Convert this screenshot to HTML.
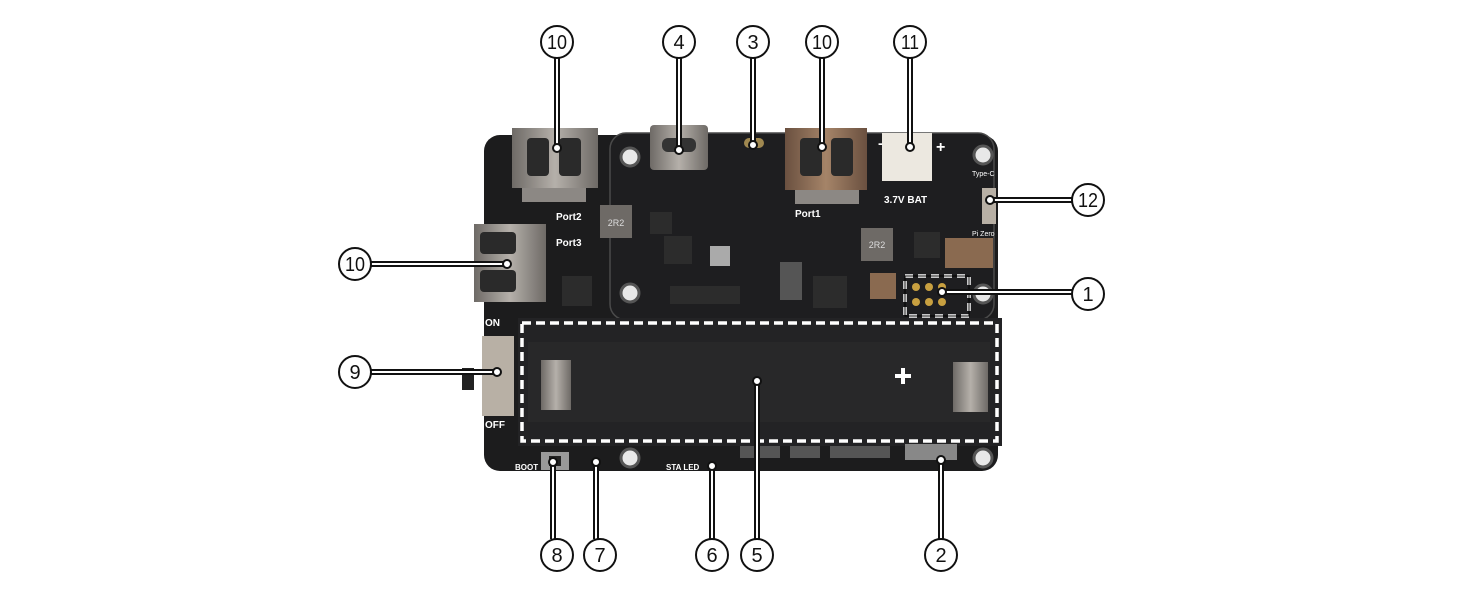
<!DOCTYPE html>
<html><head><meta charset="utf-8"><style>
html,body{margin:0;padding:0;background:#fff;}
svg{display:block;}
text{font-family:"Liberation Sans",sans-serif;}
</style></head><body>
<svg width="1464" height="600" viewBox="0 0 1464 600" xmlns="http://www.w3.org/2000/svg">
<defs>
<linearGradient id="met" x1="0" x2="1"><stop offset="0" stop-color="#6e6a66"/><stop offset=".5" stop-color="#b5b0aa"/><stop offset="1" stop-color="#6e6a66"/></linearGradient>
<linearGradient id="cop" x1="0" x2="1"><stop offset="0" stop-color="#6a5040"/><stop offset=".5" stop-color="#a58468"/><stop offset="1" stop-color="#6a5040"/></linearGradient>
</defs>
<!-- board -->
<rect x="484" y="135" width="514" height="336" rx="16" fill="#1c1c1d"/>
<rect x="610" y="133" width="384" height="187" rx="16" fill="#1e1e20" stroke="#4a4a4a" stroke-width="1.5"/>
<!-- holes -->
<g fill="#e8e8e8" stroke="#555" stroke-width="3">
<circle cx="630" cy="157" r="9"/><circle cx="630" cy="293" r="9"/><circle cx="983" cy="155" r="9"/><circle cx="983" cy="294" r="9"/><circle cx="630" cy="458" r="9"/><circle cx="983" cy="458" r="9"/>
</g>
<!-- USB port2 -->
<rect x="512" y="128" width="86" height="60" fill="url(#met)"/>
<rect x="527" y="138" width="22" height="38" rx="4" fill="#2a2a2a"/><rect x="559" y="138" width="22" height="38" rx="4" fill="#2a2a2a"/>
<rect x="522" y="188" width="64" height="14" fill="#8c8884"/>
<!-- type C -->
<rect x="650" y="125" width="58" height="45" rx="4" fill="url(#met)"/>
<rect x="662" y="138" width="34" height="14" rx="6" fill="#333"/>
<rect x="744" y="138" width="20" height="10" rx="5" fill="#a08850"/>
<!-- port1 -->
<rect x="785" y="128" width="82" height="62" fill="url(#cop)"/>
<rect x="800" y="138" width="22" height="38" rx="4" fill="#2a2a2a"/><rect x="831" y="138" width="22" height="38" rx="4" fill="#2a2a2a"/>
<rect x="795" y="190" width="64" height="14" fill="#8c8884"/>
<!-- bat connector -->
<rect x="882" y="133" width="50" height="48" fill="#ece8e0"/>
<text x="878" y="148" fill="#fff" font-size="14" font-weight="bold">-</text>
<text x="936" y="152" fill="#fff" font-size="16" font-weight="bold">+</text>
<text x="884" y="203" fill="#fff" font-size="10" font-weight="bold">3.7V BAT</text>
<text x="795" y="217" fill="#fff" font-size="10" font-weight="bold">Port1</text>
<text x="556" y="220" fill="#fff" font-size="10" font-weight="bold">Port2</text>
<text x="556" y="246" fill="#fff" font-size="10" font-weight="bold">Port3</text>
<text x="972" y="176" fill="#fff" font-size="7">Type-C</text>
<text x="972" y="236" fill="#fff" font-size="7">Pi Zero</text>
<!-- switch right -->
<rect x="982" y="188" width="14" height="36" fill="#b8b0a5"/>
<!-- inductors / chips -->
<rect x="600" y="205" width="32" height="33" fill="#6e6a66"/><text x="616" y="226" fill="#ddd" font-size="9" text-anchor="middle">2R2</text>
<rect x="861" y="228" width="32" height="33" fill="#6e6a66"/><text x="877" y="248" fill="#ddd" font-size="9" text-anchor="middle">2R2</text>
<rect x="664" y="236" width="28" height="28" fill="#2c2c2c"/>
<rect x="650" y="212" width="22" height="22" fill="#2c2c2c"/>
<rect x="710" y="246" width="20" height="20" fill="#aaa"/>
<rect x="780" y="262" width="22" height="38" fill="#555"/>
<rect x="813" y="276" width="34" height="32" fill="#2c2c2c"/>
<rect x="914" y="232" width="26" height="26" fill="#2c2c2c"/>
<rect x="562" y="276" width="30" height="30" fill="#2c2c2c"/>
<rect x="670" y="286" width="70" height="18" fill="#2c2c2c"/>
<rect x="870" y="273" width="26" height="26" fill="#8a6a50"/>
<rect x="945" y="238" width="48" height="30" fill="#8a6a50"/>
<!-- side USB -->
<rect x="474" y="224" width="72" height="78" fill="url(#met)"/>
<rect x="480" y="232" width="36" height="22" rx="4" fill="#2a2a2a"/><rect x="480" y="270" width="36" height="22" rx="4" fill="#2a2a2a"/>
<!-- pogo -->
<g fill="#c8a040"><circle cx="916" cy="287" r="4"/><circle cx="929" cy="287" r="4"/><circle cx="942" cy="287" r="4"/><circle cx="916" cy="302" r="4"/><circle cx="929" cy="302" r="4"/><circle cx="942" cy="302" r="4"/></g>
<rect x="905" y="276" width="64" height="40" fill="none" stroke="#fff" stroke-width="3.5" stroke-dasharray="8,5"/>
<rect x="905" y="276" width="64" height="40" fill="none" stroke="#000" stroke-width="1"/>
<!-- battery holder -->
<rect x="518" y="318" width="484" height="128" fill="#232325"/>
<rect x="528" y="342" width="462" height="80" fill="#282829"/>
<rect x="541" y="360" width="30" height="50" fill="url(#met)"/>
<rect x="953" y="362" width="35" height="50" fill="url(#met)"/>
<path d="M895 376h16M903 368v16" stroke="#fff" stroke-width="4"/>
<rect x="522" y="323" width="475" height="118" fill="none" stroke="#fff" stroke-width="3.5" stroke-dasharray="9,5"/>
<!-- power switch -->
<rect x="482" y="336" width="32" height="80" fill="#b8b0a5"/>
<rect x="462" y="368" width="12" height="22" fill="#222"/>
<text x="485" y="326" fill="#fff" font-size="10" font-weight="bold">ON</text>
<text x="485" y="428" fill="#fff" font-size="10" font-weight="bold">OFF</text>
<!-- bottom -->
<rect x="541" y="452" width="28" height="18" fill="#999"/><rect x="549" y="456" width="12" height="10" fill="#222"/>
<text x="515" y="470" fill="#fff" font-size="8" font-weight="bold">BOOT</text>
<text x="666" y="470" fill="#fff" font-size="8" font-weight="bold">STA LED</text>
<rect x="905" y="444" width="52" height="16" fill="#888"/>
<g fill="#555"><rect x="740" y="446" width="40" height="12"/><rect x="790" y="446" width="30" height="12"/><rect x="830" y="446" width="60" height="12"/></g>
<!-- callouts -->
<g stroke-linecap="butt">
<g stroke="#111" stroke-width="6" fill="none">
<path d="M557 58V148M679 58V150M753 58V145M822 58V147M910 58V147M990 200H1072M942 292H1072M371 264H507M371 372H497M553 539V462M596 539V462M712 539V466M757 539V381M941 539V460"/>
</g>
<g stroke="#fff" stroke-width="2" fill="none">
<path d="M557 58V148M679 58V150M753 58V145M822 58V147M910 58V147M990 200H1072M942 292H1072M371 264H507M371 372H497M553 539V462M596 539V462M712 539V466M757 539V381M941 539V460"/>
</g>
<g fill="#fff" stroke="#111" stroke-width="2">
<circle cx="557" cy="148" r="4"/><circle cx="679" cy="150" r="4"/><circle cx="753" cy="145" r="4"/><circle cx="822" cy="147" r="4"/><circle cx="910" cy="147" r="4"/><circle cx="990" cy="200" r="4"/><circle cx="942" cy="292" r="4"/><circle cx="507" cy="264" r="4"/><circle cx="497" cy="372" r="4"/><circle cx="553" cy="462" r="4"/><circle cx="596" cy="462" r="4"/><circle cx="712" cy="466" r="4"/><circle cx="757" cy="381" r="4"/><circle cx="941" cy="460" r="4"/>
</g>
</g>
<g fill="#fff" stroke="#111" stroke-width="2">
<circle cx="557" cy="42" r="16"/><circle cx="679" cy="42" r="16"/><circle cx="753" cy="42" r="16"/><circle cx="822" cy="42" r="16"/><circle cx="910" cy="42" r="16"/>
<circle cx="1088" cy="200" r="16"/><circle cx="1088" cy="294" r="16"/><circle cx="355" cy="264" r="16"/><circle cx="355" cy="372" r="16"/>
<circle cx="557" cy="555" r="16"/><circle cx="600" cy="555" r="16"/><circle cx="712" cy="555" r="16"/><circle cx="757" cy="555" r="16"/><circle cx="941" cy="555" r="16"/>
</g>
<g fill="#111" font-size="20" text-anchor="middle">
<text x="557" y="49" textLength="20" lengthAdjust="spacingAndGlyphs">10</text><text x="679" y="49">4</text><text x="753" y="49">3</text><text x="822" y="49" textLength="20" lengthAdjust="spacingAndGlyphs">10</text><text x="910" y="49" textLength="18" lengthAdjust="spacingAndGlyphs">11</text>
<text x="1088" y="207" textLength="20" lengthAdjust="spacingAndGlyphs">12</text><text x="1088" y="301">1</text><text x="355" y="271" textLength="20" lengthAdjust="spacingAndGlyphs">10</text><text x="355" y="379">9</text>
<text x="557" y="562">8</text><text x="600" y="562">7</text><text x="712" y="562">6</text><text x="757" y="562">5</text><text x="941" y="562">2</text>
</g>
</svg>
</body></html>
